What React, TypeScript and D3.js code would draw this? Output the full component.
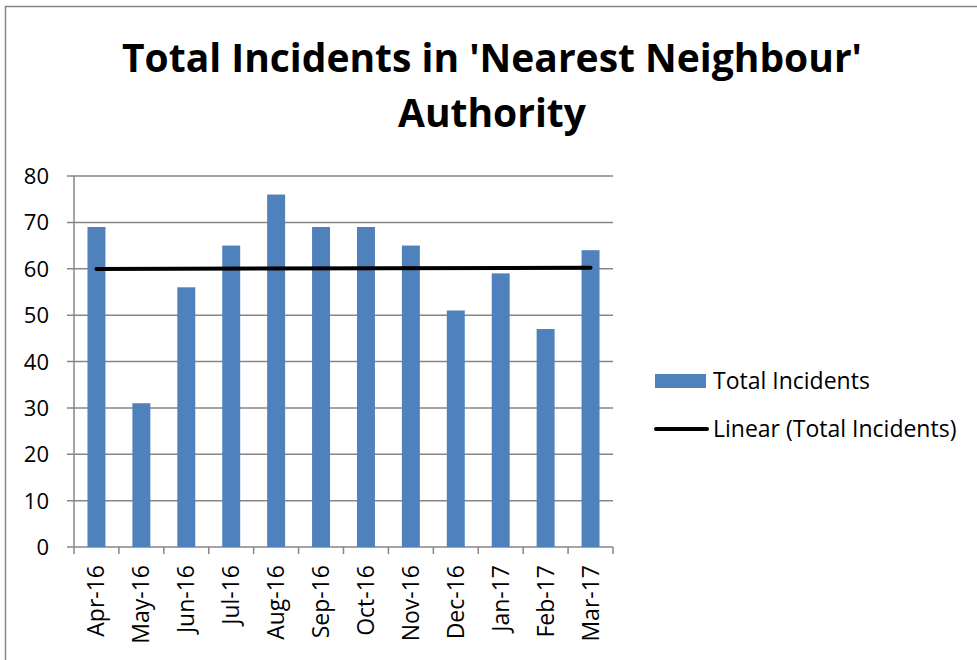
import React from "react";
import * as d3 from "d3";

const months = ["Apr-16", "May-16", "Jun-16", "Jul-16", "Aug-16", "Sep-16", "Oct-16", "Nov-16", "Dec-16", "Jan-17", "Feb-17", "Mar-17"];
const incidents = [69, 31, 56, 65, 76, 69, 69, 65, 51, 59, 47, 64];
const yTicks = [0, 10, 20, 30, 40, 50, 60, 70, 80];
const titleLines = ["Total Incidents in 'Nearest Neighbour'", "Authority"];
const legendLabels = ["Total Incidents", "Linear (Total Incidents)"];

const W = 977;
const H = 660;
const FONT = "'Open Sans', sans-serif";
const BAR = "#4F81BD";
const GRID = "#868686";

const App = () => {
  const left = 74, right = 613, top = 176, bottom = 547;

  const x = d3.scaleBand<string>().domain(months).range([left, right]).paddingInner(0.6).paddingOuter(0.3);
  const y = d3.scaleLinear().domain([0, 80]).range([bottom, top]);

  // least squares trend line over category index
  const idx = incidents.map((_, i) => i);
  const mx = d3.mean(idx) as number;
  const my = d3.mean(incidents) as number;
  const slope = d3.sum(idx, i => (i - mx) * (incidents[i] - my)) / d3.sum(idx, i => (i - mx) ** 2);
  const icpt = my - slope * mx;
  const cx = (i: number) => (x(months[i]) as number) + x.bandwidth() / 2;
  const trend = d3.line<number>().x(i => cx(i)).y(i => y(icpt + slope * i));
  const ends = [0, months.length - 1];

  const step = (right - left) / months.length;

  return (
    <svg width={W} height={H} style={{ position: "absolute", left: 0, top: 0, background: "#fff" }} fontFamily={FONT}>
      <rect x={5.5} y={6.5} width={W + 10} height={H + 10} fill="#fff" stroke={GRID} strokeWidth={1.5} />

      {titleLines.map((t, i) => (
        <text key={t} x={492} y={72 + i * 55} textAnchor="middle" fontSize={39} fontWeight="bold" fill="#000">{t}</text>
      ))}

      {yTicks.map(t => (
        <g key={t}>
          <line x1={left - 7} x2={right} y1={y(t)} y2={y(t)} stroke={GRID} strokeWidth={1.5} />
          <text x={49} y={y(t) + 8} textAnchor="end" fontSize={22} fill="#000">{t}</text>
        </g>
      ))}
      <line x1={left} x2={left} y1={top} y2={bottom} stroke={GRID} strokeWidth={1.5} />

      {months.map((m, i) => (
        <rect key={m} x={x(m)} y={y(incidents[i])} width={x.bandwidth()} height={bottom - y(incidents[i])} fill={BAR} />
      ))}

      {d3.range(months.length + 1).map(i => (
        <line key={i} x1={left + i * step} x2={left + i * step} y1={bottom} y2={bottom + 7} stroke={GRID} strokeWidth={1.5} />
      ))}
      {months.map(m => (
        <text key={m} transform={`translate(${(x(m) as number) + x.bandwidth() / 2 + 8},${bottom + 18}) rotate(-90)`} textAnchor="end" fontSize={23} fill="#000">{m}</text>
      ))}

      <path d={trend(ends) || ""} stroke="#000" strokeWidth={4} strokeLinecap="round" fill="none" />

      <rect x={655} y={374} width={51} height={14} fill={BAR} />
      <text x={713} y={389} fontSize={23} fill="#000">{legendLabels[0]}</text>
      <line x1={656} x2={707} y1={429} y2={429} stroke="#000" strokeWidth={4} strokeLinecap="round" />
      <text x={713} y={437} fontSize={23} fill="#000">{legendLabels[1]}</text>
    </svg>
  );
};

export default App;
